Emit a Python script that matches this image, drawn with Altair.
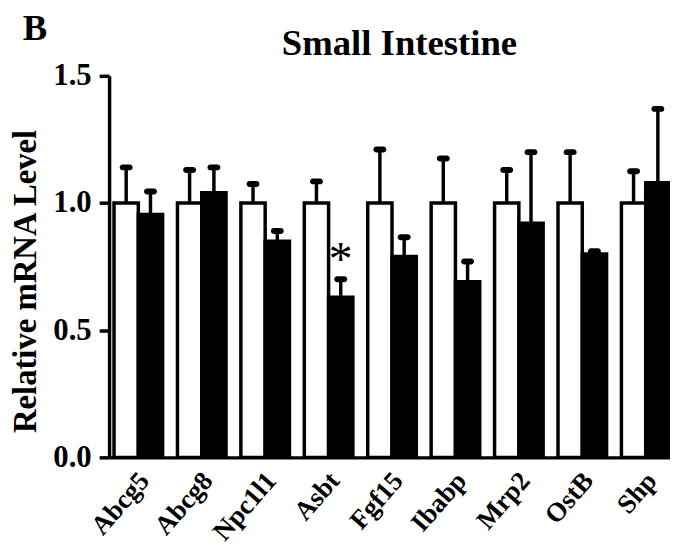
import altair as alt
import pandas as pd

genes = ["Abcg5", "Abcg8", "Npc1l1", "Asbt", "Fgf15", "Ibabp", "Mrp2", "OstB", "Shp"]
groups = ["Control", "Treated"]
control_mean = [1.0, 1.0, 1.0, 1.0, 1.0, 1.0, 1.0, 1.0, 1.0]
control_upper = [1.14, 1.13, 1.075, 1.085, 1.21, 1.175, 1.13, 1.20, 1.125]
treated_mean = [0.955, 1.04, 0.85, 0.63, 0.79, 0.69, 0.92, 0.80, 1.08]
treated_upper = [1.045, 1.14, 0.89, 0.70, 0.865, 0.77, 1.20, 0.81, 1.37]
sig_genes = ["Asbt"]
y_ticks = [0, 0.5, 1.0, 1.5]

rows = []
for i, g in enumerate(genes):
    rows.append({"gene": g, "group": "Control", "mean": control_mean[i],
                 "upper": control_upper[i]})
    rows.append({"gene": g, "group": "Treated", "mean": treated_mean[i],
                 "upper": treated_upper[i]})
df = pd.DataFrame(rows)
gene_df = pd.DataFrame({"gene": genes})

star_df = df[(df.group == "Treated") & (df.gene.isin(sig_genes))].copy()
star_df["ypos"] = star_df["upper"] + 0.07
star_df["label"] = "*"

FONT = "Liberation Serif"

x = alt.X("gene:N", sort=genes,
          scale=alt.Scale(paddingInner=0.234, paddingOuter=0.039, align=1),
          axis=alt.Axis(title=None, labels=False, ticks=False, domainWidth=3.5,
                        domainColor="black"))
xo = alt.XOffset("group:N", sort=groups,
                 scale=alt.Scale(paddingInner=0, paddingOuter=0))
yscale = alt.Scale(domain=[0, 1.5], nice=False)

bars = alt.Chart(df).mark_bar(stroke="black", strokeWidth=3.5).encode(
    x=x, xOffset=xo,
    y=alt.Y("mean:Q", scale=yscale,
            axis=alt.Axis(title="Relative mRNA Level", values=y_ticks,
                          format=".1f", grid=False, domainWidth=3.5, domainColor="black",
                          tickWidth=3.5, tickSize=10, tickColor="black",
                          labelFont=FONT, labelFontSize=31, labelFontWeight="bold",
                          labelColor="black", labelPadding=8,
                          titleFont=FONT, titleFontSize=33, titleFontWeight="bold",
                          titleColor="black", titleAngle=270, titleAlign="center",
                          titleBaseline="middle", titleX=-84, titleY=207)),
    fill=alt.Fill("group:N", sort=groups,
                  scale=alt.Scale(domain=groups, range=["white", "black"]), legend=None),
)

err = alt.Chart(df).mark_rule(color="black", strokeWidth=3.5).encode(
    x=x, xOffset=xo, y=alt.Y("mean:Q", scale=yscale), y2="upper:Q")

caps = alt.Chart(df).mark_tick(color="black", thickness=6, size=13, cornerRadius=3,
                               opacity=1).encode(
    x=x, xOffset=xo, y=alt.Y("upper:Q", scale=yscale))

stars = alt.Chart(star_df).mark_text(font=FONT, fontSize=48, color="black",
                                     baseline="middle").encode(
    x=x, xOffset=xo, y=alt.Y("ypos:Q", scale=yscale), text="label:N")

xlabels = alt.Chart(gene_df).mark_text(
    font=FONT, fontSize=27, fontWeight="bold", color="black", align="right",
    baseline="middle", angle=311, dx=4, dy=5).encode(
    x=x, y=alt.value(404), text="gene:N")

title_txt = alt.Chart(pd.DataFrame({"t": ["Small Intestine"]})).mark_text(
    font=FONT, fontSize=37, fontWeight="bold", color="black", align="center",
    baseline="alphabetic").encode(x=alt.value(293), y=alt.value(-21), text="t:N")

letter = alt.Chart(pd.DataFrame({"t": ["B"]})).mark_text(
    font=FONT, fontSize=37, fontWeight="bold", color="black", align="left",
    baseline="alphabetic").encode(x=alt.value(-87), y=alt.value(-36), text="t:N")

chart = alt.layer(bars, err, caps, stars, xlabels, title_txt, letter).properties(
    width=566, height=385,
    autosize=alt.AutoSizeParams(type="none"),
    padding={"left": 102, "top": 66, "right": 0, "bottom": 87},
).configure_view(stroke=None)

chart.save("out.html", embed_options={"renderer": "svg", "actions": False})
